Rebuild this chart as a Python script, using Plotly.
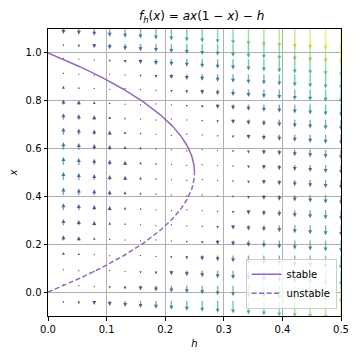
import numpy as np
import plotly.graph_objects as go
from plotly.colors import sample_colorscale

# ---- data / parameters ----
a = 1.0
h_grid = np.linspace(0.0, 0.5, 20)[1:]          # arrow columns (h)
x_grid = np.linspace(-0.1, 1.1, 20)              # arrow rows (x)
h_curve = np.linspace(0.0, 0.25, 300)            # bifurcation branch parameter
arrow_scale = 0.15                               # data-y units per unit of f

def f(x, h):
    return a * x * (1 - x) - h

stable = (1 + np.sqrt(1 - 4 * h_curve / a)) / 2
unstable = (1 - np.sqrt(1 - 4 * h_curve / a)) / 2

# ---- figure geometry (page body has an 8px margin) ----
W, H = 352, 352
ml, mr, mt, mb = 40, 19, 21, 44
px_per_y = (H - mt - mb) / 1.2

HH, XX = np.meshgrid(h_grid, x_grid)
FF = f(XX, HH)
mag = np.abs(FF)
allmag = np.abs(f(*np.meshgrid(x_grid, np.linspace(0.0, 0.5, 20), indexing="ij")))
mmin, mmax = allmag.min(), allmag.max()
norm = (mag - mmin) / (mmax - mmin)

fig = go.Figure()

nb = 40
head_px = 4.0
bins = {}
hx, hy, hsym, hsize, hcol = [], [], [], [], []
for hv, xv, fv, nv in zip(HH.ravel(), XX.ravel(), FF.ravel(), norm.ravel()):
    dy = arrow_scale * fv
    L = abs(dy) * px_per_y
    col = sample_colorscale("Viridis", [float(nv)])[0]
    tip = xv + dy
    sgn = 1 if fv >= 0 else -1
    size = head_px if L >= head_px else max(1.5, 0.8 * L)
    if L > head_px:
        neck = tip - sgn * (head_px - 1) / px_per_y
        b = min(int(nv * nb), nb - 1)
        bins.setdefault(b, ([], []))
        bins[b][0].extend([hv, hv, None])
        bins[b][1].extend([xv, neck, None])
    hx.append(hv); hy.append(tip)
    hsym.append("arrow-up" if sgn > 0 else "arrow-down")
    hsize.append(size); hcol.append(col)

for b, (xs, ys) in bins.items():
    c = sample_colorscale("Viridis", [(b + 0.5) / nb])[0]
    fig.add_trace(go.Scatter(x=xs, y=ys, mode="lines", line=dict(color=c, width=1.4),
                             opacity=0.6, showlegend=False, hoverinfo="skip"))
fig.add_trace(go.Scatter(x=hx, y=hy, mode="markers", showlegend=False, hoverinfo="skip",
                         marker=dict(symbol=hsym, size=hsize, color=hcol, opacity=0.9,
                                     line=dict(width=0))))

purple = "#9467bd"
fig.add_trace(go.Scatter(x=h_curve, y=stable, mode="lines", name="stable",
                         line=dict(color=purple, width=1.5)))
fig.add_trace(go.Scatter(x=h_curve, y=unstable, mode="lines", name="unstable",
                         line=dict(color=purple, width=1.5, dash="5px,2.5px")))

axis_common = dict(showline=True, linecolor="black", linewidth=1, mirror=True,
                   ticks="outside", ticklen=3.5, tickcolor="black", automargin=False,
                   showgrid=True, gridcolor="#b0b0b0", gridwidth=0.8, zeroline=False,
                   tickfont=dict(size=10, color="black"))

fig.update_layout(
    width=W, height=H,
    margin=dict(l=ml, r=mr, t=mt, b=mb),
    plot_bgcolor="white", paper_bgcolor="white",
    font=dict(family="DejaVu Sans", color="black"),
    title=dict(text="<i>f</i><sub><i>h</i></sub>(<i>x</i>) = <i>ax</i>(1 − <i>x</i>) − <i>h</i>",
               x=0.55, xanchor="center", y=0.977, yanchor="middle", font=dict(size=12)),
    xaxis=dict(range=[0, 0.5], tickvals=[0, 0.1, 0.2, 0.3, 0.4, 0.5],
               ticktext=["0.0", "0.1", "0.2", "0.3", "0.4", "0.5"],
               title=dict(text="<i>h</i>", font=dict(size=10), standoff=6), **axis_common),
    yaxis=dict(range=[-0.1, 1.1], tickvals=[0, 0.2, 0.4, 0.6, 0.8, 1.0],
               ticktext=["0.0", "0.2", "0.4", "0.6", "0.8", "1.0"],
               title=dict(text="<i>x</i>", font=dict(size=10), standoff=8), **axis_common),
    legend=dict(x=0.985, y=0.025, xanchor="right", yanchor="bottom",
                bgcolor="rgba(255,255,255,0.8)", bordercolor="#cccccc", borderwidth=1,
                font=dict(size=10), tracegroupgap=0, itemwidth=30),
)

fig.write_html("out.html")
